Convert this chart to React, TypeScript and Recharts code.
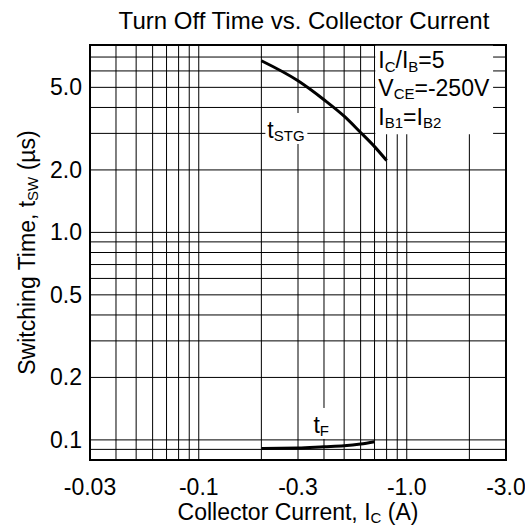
import React from "react";
import {
  LineChart,
  Line,
  XAxis,
  YAxis,
  CartesianGrid,
  ReferenceArea,
  ReferenceDot,
  Label,
} from "recharts";

const FONT = "'Liberation Sans', Arial, Helvetica, sans-serif";
const FS = 23;
const SUB = 15;

// grid lines (log decades) and the labelled ones
const currentGrid = [0.03, 0.04, 0.05, 0.06, 0.07, 0.08, 0.09, 0.1, 0.2, 0.3, 0.4, 0.5, 0.6, 0.7, 0.8, 0.9, 1, 2, 3];
const currentLabels = [0.03, 0.1, 0.3, 1, 3];
const timeGrid = [0.08, 0.09, 0.1, 0.2, 0.3, 0.4, 0.5, 0.6, 0.7, 0.8, 0.9, 1, 2, 3, 4, 5, 6, 7, 8];
const timeLabels = [0.1, 0.2, 0.5, 1, 2, 5];

// storage time
const tstgCurrent = [0.2, 0.3, 0.4, 0.5, 0.6, 0.7, 0.8];
const tstgTime = [6.72, 5.38, 4.36, 3.63, 3.03, 2.59, 2.22];

// fall time
const tfCurrent = [0.2, 0.3, 0.4, 0.5, 0.6, 0.7];
const tfTime = [0.091, 0.0913, 0.0926, 0.0936, 0.0955, 0.098];

const tstgData = tstgCurrent.map((ic, i) => ({ ic, t: tstgTime[i] }));
const tfData = tfCurrent.map((ic, i) => ({ ic, t: tfTime[i] }));

const fmtCurrent = (v: number) => "-" + (v < 1 ? String(v) : v.toFixed(1));
const fmtTime = (v: number) => (v < 1 ? String(v) : v.toFixed(1));

const XTick = ({ x, y, payload }: any) => {
  if (!currentLabels.includes(payload.value)) return <g />;
  return (
    <text x={x} y={y + 35} textAnchor="middle" fontSize={FS} fontFamily={FONT} fill="#000">
      {fmtCurrent(payload.value)}
    </text>
  );
};

const YTick = ({ x, y, payload }: any) => {
  if (!timeLabels.includes(payload.value)) return <g />;
  return (
    <text x={x - 8} y={y + 8} textAnchor="end" fontSize={FS} fontFamily={FONT} fill="#000">
      {fmtTime(payload.value)}
    </text>
  );
};

const XTitle = ({ viewBox }: any) => (
  <text x={viewBox.x + viewBox.width / 2} y={viewBox.y + 60} textAnchor="middle" fontSize={FS} fontFamily={FONT} fill="#000">
    Collector Current, I<tspan fontSize={SUB} dy={3}>C</tspan>
    <tspan dy={-3}> (A)</tspan>
  </text>
);

const YTitle = ({ viewBox }: any) => {
  const cx = viewBox.x + 35;
  const cy = viewBox.y + viewBox.height / 2;
  return (
    <text x={cx} y={cy} transform={`rotate(-90 ${cx} ${cy})`} textAnchor="middle" fontSize={FS} fontFamily={FONT} fill="#000">
      Switching Time, t<tspan fontSize={SUB} dy={3}>SW</tspan>
      <tspan dy={-3}> (µs)</tspan>
    </text>
  );
};

const Conditions = ({ viewBox }: any) => {
  const x = viewBox.x + 3;
  const y = viewBox.y;
  return (
    <text fontSize={FS} fontFamily={FONT} fill="#000">
      <tspan x={x} y={y + 22}>I</tspan>
      <tspan fontSize={SUB} dy={4}>C</tspan>
      <tspan dy={-4}>/I</tspan>
      <tspan fontSize={SUB} dy={4}>B</tspan>
      <tspan dy={-4}>=5</tspan>
      <tspan x={x} y={y + 50}>V</tspan>
      <tspan fontSize={SUB} dy={3}>CE</tspan>
      <tspan dy={-3}>=-250V</tspan>
      <tspan x={x} y={y + 79}>I</tspan>
      <tspan fontSize={SUB} dy={3}>B1</tspan>
      <tspan dy={-3}>=I</tspan>
      <tspan fontSize={SUB} dy={3}>B2</tspan>
    </text>
  );
};

const curveLabel = (sub: string, boxW: number) => ({ viewBox }: any) => {
  const x = viewBox.x + viewBox.width / 2 + 6;
  const y = viewBox.y + viewBox.height / 2;
  return (
    <g>
      <rect x={x - 2} y={y - 25} width={boxW} height={31} fill="#fff" />
      <text x={x} y={y} fontSize={FS} fontFamily={FONT} fill="#000">
        t<tspan fontSize={SUB} dy={3}>{sub}</tspan>
      </text>
    </g>
  );
};

export default function App() {
  return (
    <div style={{ position: "absolute", left: 0, top: 0, width: 525, height: 530, background: "#fff" }}>
      <svg width={525} height={40} style={{ position: "absolute", left: 0, top: 0 }}>
        <text x={304} y={29} textAnchor="middle" fontSize={24} fontFamily={FONT} fill="#000">
          Turn Off Time vs. Collector Current
        </text>
      </svg>
      <LineChart width={525} height={530} margin={{ top: 45, right: 19, bottom: 0, left: 0 }}>
        <CartesianGrid stroke="#000" strokeWidth={1} fill="none" />
        <XAxis
          dataKey="ic"
          type="number"
          scale="log"
          domain={[0.03, 3]}
          ticks={currentGrid}
          interval={0}
          allowDataOverflow
          height={70}
          axisLine={false}
          tickLine={false}
          tickSize={0}
          tickMargin={0}
          tick={<XTick />}
          label={<Label content={XTitle} />}
        />
        <YAxis
          dataKey="t"
          type="number"
          scale="log"
          domain={[0.08, 8]}
          ticks={timeGrid}
          interval={0}
          allowDataOverflow
          width={90}
          axisLine={false}
          tickLine={false}
          tickSize={0}
          tickMargin={0}
          tick={<YTick />}
          label={<Label content={YTitle} />}
        />
        <ReferenceArea x1={0.03} x2={3} y1={0.08} y2={8} fill="none" stroke="#000" strokeWidth={2} fillOpacity={0} />
        <ReferenceArea x1={0.706} x2={2.6} y1={2.97} y2={7.93} fill="#fff" fillOpacity={1} stroke="none" label={Conditions} />
        <ReferenceDot x={0.2} y={2.85} r={1} fill="none" stroke="none" label={curveLabel("STG", 42)} />
        <ReferenceDot x={0.333} y={0.108} r={1} fill="none" stroke="none" label={curveLabel("F", 22)} />
        <Line data={tstgData} dataKey="t" type="monotone" stroke="#000" strokeWidth={3} dot={false} isAnimationActive={false} />
        <Line data={tfData} dataKey="t" type="monotone" stroke="#000" strokeWidth={3} dot={false} isAnimationActive={false} />
      </LineChart>
    </div>
  );
}
